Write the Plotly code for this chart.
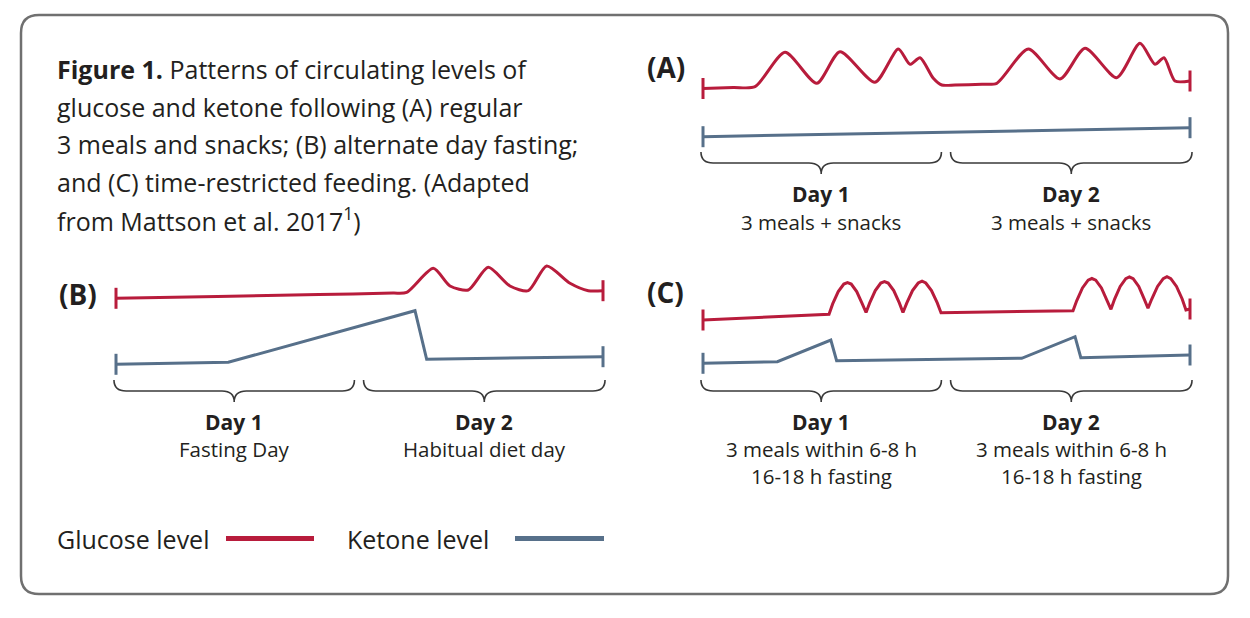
import plotly.graph_objects as go

W, H = 1250, 618
RED = "#B81C3C"
BLUE = "#57708A"
TEXT = "#231F20"
BRACE = "#3A3A3A"
FONT = "Open Sans"

# ---------------- data (hours since start, arbitrary level units) ----------------
# Panel A: regular 3 meals + snacks
a_glucose_h = [0, 3.0, 5.13, 8.08, 11.21, 13.50, 16.95, 19.25, 20.40, 21.39, 22.70, 23.53,
               24.84, 27.5, 28.95, 32.06, 35.19, 37.65, 40.77, 43.07, 44.55, 45.44, 46.52, 48]
a_glucose = [56.5, 57.5, 58.3, 92.7, 61.7, 93.3, 62.7, 96.0, 80.7, 87.3, 66.7, 60.0,
             60.0, 60.8, 61.7, 96.0, 66.0, 96.7, 67.3, 101.7, 80.7, 87.3, 64.0, 64.0]
a_ketone_h = [0, 48]
a_ketone = [8.3, 17.3]

# Panel B: alternate day fasting
b_glucose_h = [0, 10.0, 20.0, 27.3, 28.65, 31.27, 32.92, 34.72, 36.69, 38.83, 40.64, 42.45, 44.75, 46.55, 48]
b_glucose = [76.7, 78.6, 80.5, 81.9, 82.6, 106.7, 89.0, 85.0, 107.7, 89.0, 84.3, 109.0, 91.7, 84.3, 84.3]
b_ketone_h = [0, 11.07, 29.47, 30.62, 48]
b_ketone = [10.7, 12.7, 64.3, 15.7, 18.3]

# Panel C: time-restricted feeding
c_glucose_h = [0, 12.42, 12.78, 13.33, 13.88, 14.24, 14.61, 15.15, 15.70, 16.07,
               16.43, 16.98, 17.52, 17.89, 18.25, 18.80, 19.35, 19.71,
               20.09, 20.65, 21.21, 21.59, 21.96, 22.52, 23.09, 23.46,
               36.47, 36.84, 37.40, 37.96, 38.33, 38.71, 39.27, 39.83, 40.21,
               40.57, 41.12, 41.67, 42.03, 42.40, 42.95, 43.49, 43.86,
               44.23, 44.80, 45.36, 45.73, 46.11, 46.67, 47.23, 47.60, 48]
c_glucose = [55.0, 60.7, 71.1, 83.4, 91.0, 92.5, 91.0, 83.4, 71.1, 62.5,
             72.1, 84.4, 92.0, 93.5, 92.0, 84.4, 72.1, 62.5,
             72.1, 84.4, 92.0, 93.8, 92.0, 84.4, 72.1, 62.3,
             64.3, 74.4, 87.1, 94.9, 96.5, 94.9, 87.1, 74.4, 65.7,
             75.9, 88.6, 96.4, 98.0, 96.4, 88.6, 75.9, 66.7,
             76.0, 88.6, 96.4, 98.3, 96.4, 88.6, 76.0, 65.0, 66.0]
c_ketone_h = [0, 7.33, 12.60, 13.17, 31.41, 36.67, 37.24, 48]
c_ketone = [11.7, 13.3, 35.0, 14.3, 16.7, 38.3, 17.3, 20.0]

day_edges = [0, 24, 48]
day_titles = ["Day 1", "Day 2"]
a_day_notes = [["3 meals + snacks"], ["3 meals + snacks"]]
b_day_notes = [["Fasting Day"], ["Habitual diet day"]]
c_day_notes = [["3 meals within 6-8 h", "16-18 h fasting"], ["3 meals within 6-8 h", "16-18 h fasting"]]

caption_lines = [
    "<b>Figure 1.</b> Patterns of circulating levels of",
    "glucose and ketone following (A) regular",
    "3 meals and snacks; (B) alternate day fasting;",
    "and (C) time-restricted feeding. (Adapted",
    "from Mattson et al. 2017<sup>1</sup>)",
]
legend_labels = ["Glucose level", "Ketone level"]


# ---------------- helpers ----------------
def px_x(px):
    return px / W


def px_y(py):
    return 1 - py / H


def xdom(px0, px48):
    pph = (px48 - px0) / 48.0
    return [(px0 - pph) / W, (px48 + pph) / W]


def ydom(top_px, bot_px):
    return [1 - bot_px / H, 1 - top_px / H]


fig = go.Figure()


def add_series(h, v, color, xa, ya, shape):
    fig.add_trace(go.Scatter(
        x=h, y=v, mode="lines", xaxis=xa, yaxis=ya,
        line=dict(color=color, width=3, shape=shape, smoothing=0.7),
        hoverinfo="skip", showlegend=False))
    fig.add_trace(go.Scatter(
        x=[h[0], h[-1]], y=[v[0], v[-1]], mode="markers", xaxis=xa, yaxis=ya,
        marker=dict(symbol="line-ns", size=15, color=color, line=dict(color=color, width=3)),
        cliponaxis=False, hoverinfo="skip", showlegend=False))


add_series(a_glucose_h, a_glucose, RED, "x", "y", "spline")
add_series(a_ketone_h, a_ketone, BLUE, "x", "y", "linear")
add_series(b_glucose_h, b_glucose, RED, "x2", "y2", "spline")
add_series(b_ketone_h, b_ketone, BLUE, "x2", "y2", "linear")
add_series(c_glucose_h, c_glucose, RED, "x3", "y3", "linear")
add_series(c_ketone_h, c_ketone, BLUE, "x3", "y3", "linear")

ax_common = dict(visible=False, fixedrange=True)
fig.update_layout(
    width=W, height=H,
    margin=dict(l=0, r=0, t=0, b=0),
    paper_bgcolor="white", plot_bgcolor="rgba(0,0,0,0)",
    showlegend=False,
    xaxis=dict(domain=xdom(703, 1190), range=[-1, 49], anchor="y", **ax_common),
    yaxis=dict(domain=ydom(35, 145), range=[0, 110], anchor="x", **ax_common),
    xaxis2=dict(domain=xdom(116, 603), range=[-1, 49], anchor="y2", **ax_common),
    yaxis2=dict(domain=ydom(255, 375), range=[0, 120], anchor="x2", **ax_common),
    xaxis3=dict(domain=xdom(703, 1190), range=[-1, 49], anchor="y3", **ax_common),
    yaxis3=dict(domain=ydom(265, 375), range=[0, 110], anchor="x3", **ax_common),
)

shapes = []
annotations = []


def brace_path(x0, x1, ytop, yh, ytip, r=1.2):
    xm = (x0 + x1) / 2
    yt, yhh, yp = px_y(ytop), px_y(yh), px_y(ytip)
    return (f"M {x0},{yt} Q {x0},{yhh} {x0 + r},{yhh} L {xm - r},{yhh} "
            f"Q {xm},{yhh} {xm},{yp} Q {xm},{yhh} {xm + r},{yhh} "
            f"L {x1 - r},{yhh} Q {x1},{yhh} {x1},{yt}")


def add_day_labels(xref, ytop, yh, ytip, title_y, notes, note_y0):
    for i in range(2):
        x0 = day_edges[i] - 0.2 if i == 0 else day_edges[i] + 0.4
        x1 = day_edges[i + 1] - 0.5 if i == 0 else day_edges[i + 1] + 0.2
        shapes.append(dict(type="path", xref=xref, yref="paper",
                           path=brace_path(x0, x1, ytop, yh, ytip),
                           line=dict(color=BRACE, width=1.6)))
        xm = (x0 + x1) / 2
        annotations.append(dict(x=xm, y=px_y(title_y), xref=xref, yref="paper",
                                text=f"<b>{day_titles[i]}</b>", showarrow=False,
                                xanchor="center", yanchor="middle",
                                font=dict(family=FONT, size=21, color=TEXT)))
        for j, note in enumerate(notes[i]):
            annotations.append(dict(x=xm, y=px_y(note_y0 + 27 * j), xref=xref, yref="paper",
                                    text=note, showarrow=False,
                                    xanchor="center", yanchor="middle",
                                    font=dict(family=FONT, size=20.5, color=TEXT)))


add_day_labels("x", 152, 163, 174, 194, a_day_notes, 222)
add_day_labels("x2", 380, 391, 402, 422, b_day_notes, 449)
add_day_labels("x3", 380, 391, 402, 422, c_day_notes, 449)

# panel letters
for lab, xp, yp in [("(A)", 645, 67), ("(B)", 57, 294), ("(C)", 645, 292)]:
    annotations.append(dict(x=px_x(xp), y=px_y(yp), xref="paper", yref="paper",
                            text=f"<b>{lab}</b>", showarrow=False,
                            xanchor="left", yanchor="middle",
                            font=dict(family=FONT, size=28, color=TEXT)))

# caption
for k, line in enumerate(caption_lines):
    annotations.append(dict(x=px_x(55), y=px_y(69 + 37.5 * k), xref="paper", yref="paper",
                            text=line, showarrow=False, xanchor="left", yanchor="middle",
                            font=dict(family=FONT, size=25, color=TEXT)))

# legend
for lab, tx, lx0, lx1, col in [(legend_labels[0], 55, 226, 314, RED),
                               (legend_labels[1], 345, 515, 604, BLUE)]:
    annotations.append(dict(x=px_x(tx), y=px_y(539), xref="paper", yref="paper",
                            text=lab, showarrow=False, xanchor="left", yanchor="middle",
                            font=dict(family=FONT, size=25, color=TEXT)))
    shapes.append(dict(type="line", xref="paper", yref="paper",
                       x0=px_x(lx0), x1=px_x(lx1), y0=px_y(538.5), y1=px_y(538.5),
                       line=dict(color=col, width=5)))

# rounded frame
bx0, bx1, by0, by1, rr = 21, 1228, 15, 594, 18
def P(x, y):
    return f"{px_x(x)},{px_y(y)}"
frame = (f"M {P(bx0 + rr, by0)} L {P(bx1 - rr, by0)} Q {P(bx1, by0)} {P(bx1, by0 + rr)} "
         f"L {P(bx1, by1 - rr)} Q {P(bx1, by1)} {P(bx1 - rr, by1)} "
         f"L {P(bx0 + rr, by1)} Q {P(bx0, by1)} {P(bx0, by1 - rr)} "
         f"L {P(bx0, by0 + rr)} Q {P(bx0, by0)} {P(bx0 + rr, by0)} Z")
shapes.append(dict(type="path", xref="paper", yref="paper", path=frame,
                   line=dict(color="#707070", width=2.5)))

fig.update_layout(shapes=shapes, annotations=annotations)
fig.write_html("out.html")
